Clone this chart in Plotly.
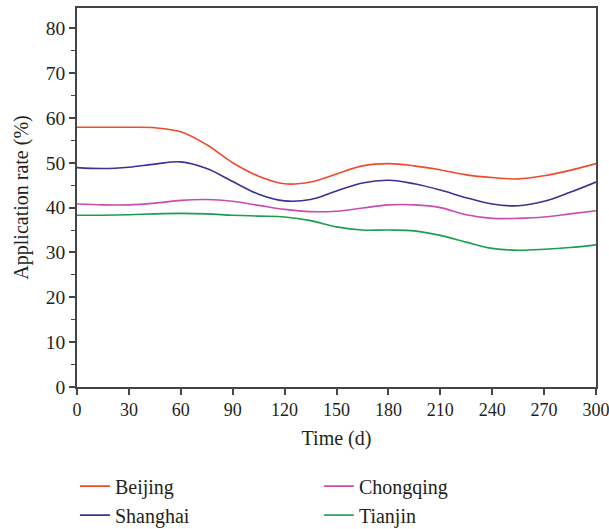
import plotly.graph_objects as go

days = [0, 15, 30, 45, 60, 75, 90, 105, 120, 135, 150, 165, 180, 195, 210, 225, 240, 255, 270, 285, 300]
beijing = [57.9, 57.9, 57.9, 57.8, 56.9, 54.0, 50.0, 47.0, 45.3, 45.7, 47.5, 49.3, 49.8, 49.3, 48.4, 47.3, 46.7, 46.4, 47.1, 48.3, 49.8]
shanghai = [48.9, 48.7, 49.0, 49.7, 50.2, 48.7, 45.8, 43.0, 41.5, 41.8, 43.7, 45.5, 46.1, 45.3, 43.9, 42.2, 40.8, 40.4, 41.4, 43.4, 45.7]
chongqing = [40.8, 40.6, 40.6, 41.0, 41.6, 41.8, 41.4, 40.5, 39.6, 39.1, 39.2, 39.9, 40.6, 40.6, 40.0, 38.4, 37.6, 37.6, 37.9, 38.6, 39.3]
tianjin = [38.3, 38.3, 38.4, 38.6, 38.7, 38.6, 38.3, 38.1, 37.9, 37.1, 35.7, 35.0, 35.0, 34.8, 33.8, 32.3, 30.9, 30.5, 30.7, 31.1, 31.7]

x_ticks = [0, 30, 60, 90, 120, 150, 180, 210, 240, 270, 300]
y_ticks = [0, 10, 20, 30, 40, 50, 60, 70, 80]

series = [
    ("Beijing", beijing, "#F04A2A", 1),
    ("Shanghai", shanghai, "#3A3194", 3),
    ("Chongqing", chongqing, "#C94DAE", 2),
    ("Tianjin", tianjin, "#19A04B", 4),
]

FONT = "Liberation Serif"
TXT = "#231F20"
fig = go.Figure()
for name, vals, color, rank in series:
    fig.add_trace(go.Scatter(
        x=days, y=vals, name=name, mode="lines",
        line=dict(color=color, width=1.6, shape="spline", smoothing=1.0),
        legendrank=rank,
    ))

axis_common = dict(
    showline=True, linecolor="#444", linewidth=1.5, mirror=True,
    ticks="outside", ticklen=6, tickwidth=1.5, tickcolor="#444",
    showgrid=False, zeroline=False,
    ticklabeloverflow="allow",
)

fig.update_xaxes(
    range=[0, 300], tickvals=x_ticks,
    tickfont=dict(family=FONT, size=18, color=TXT),
    title=dict(text="Time (d)", font=dict(family=FONT, size=20, color=TXT), standoff=12),
    **axis_common,
)
fig.update_yaxes(
    range=[0, 84.5], tickvals=y_ticks,
    tickfont=dict(family=FONT, size=19.5, color=TXT),
    minor=dict(dtick=5, ticks="outside", ticklen=4, tickwidth=1.2, tickcolor="#444"),
    title=dict(text="Application rate (%)", font=dict(family=FONT, size=20, color=TXT), standoff=12),
    **axis_common,
)

fig.update_layout(
    width=609, height=529,
    margin=dict(l=77, r=13, t=8, b=142, autoexpand=False),
    plot_bgcolor="white", paper_bgcolor="white",
    showlegend=True,
    legend=dict(
        orientation="h", x=-0.004, xanchor="left", y=-0.21, yanchor="top",
        entrywidth=199, entrywidthmode="pixels",
        font=dict(family=FONT, size=20, color=TXT),
        bgcolor="rgba(0,0,0,0)", traceorder="normal",
    ),
)

# remove the default page margin so the 609x529 figure fills the window exactly
fig.write_html(
    "out.html",
    config={"displayModeBar": False},
    post_script="document.body.style.margin='0';document.body.style.overflow='hidden';",
)
